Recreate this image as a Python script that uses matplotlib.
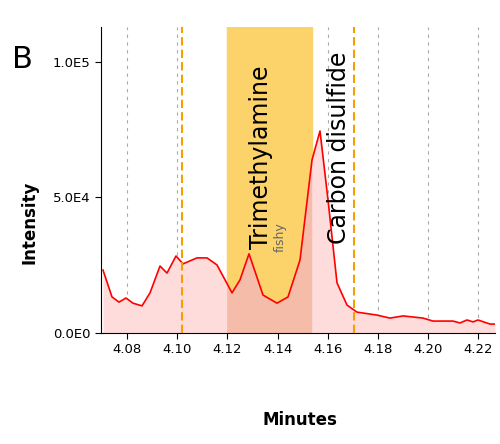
import matplotlib.pyplot as plt
import numpy as np

px = [103, 112, 119, 126, 133, 142, 150, 160, 167, 176, 183, 197, 207, 217, 232, 240, 249,
      263, 277, 288, 300, 312, 320, 328, 337, 347, 357, 377, 390, 403, 423, 433, 453, 460,
      467, 473, 478, 490, 495]
minutes = [4.08 + (p - 127) / 2510 for p in px]
intensity = [23.2, 13.3, 11.4, 12.9, 11.0, 10.0, 14.8, 24.7, 22.1, 28.4, 25.5, 27.7, 27.7,
             25.1, 14.8, 19.6, 29.2, 14.0, 11.0, 13.3, 26.9, 63.8, 74.5, 49.1, 18.5, 10.3,
             7.7, 6.6, 5.5, 6.3, 5.5, 4.4, 4.4, 3.7, 4.8, 4.1, 4.8, 3.3, 3.3]
intensity = [v * 1000 for v in intensity]

band = (4.1197, 4.1536)
marker_lines = [4.1019, 4.1704]
xticks = [4.08, 4.10, 4.12, 4.14, 4.16, 4.18, 4.20, 4.22]
yticks = [0, 50000, 100000]
ylabels = ["0.0E0", "5.0E4", "1.0E5"]

fig = plt.figure(figsize=(5, 4.44), dpi=100)
ax = fig.add_axes([0.202, 0.25, 0.788, 0.69])
ax.set_xlim(minutes[0] - 0.0008, minutes[-1])
ax.set_ylim(0, 113000)

for t in xticks:
    ax.axvline(t, color="#aaaaaa", ls=(0, (3, 4)), lw=0.8, zorder=0)
ax.axvspan(*band, color="#fcd36b", zorder=1)
x = np.array(minutes)
y = np.array(intensity)
ax.fill_between(x, y, color="#ffdcdc", lw=0, zorder=2)
# finer sampling so the in-band fill hugs the band edges
xf = np.linspace(band[0], band[1], 200)
ax.fill_between(xf, np.interp(xf, x, y), color="#f6bcaa", lw=0, zorder=2.5)
ax.plot(x, y, color="red", lw=1.2, zorder=3)
for m in marker_lines:
    ax.axvline(m, color="#f5a000", ls=(0, (4, 2)), lw=1.5, zorder=4)

ax.set_xticks(xticks)
ax.set_xticklabels([f"{t:.2f}" for t in xticks])
ax.set_yticks(yticks)
ax.set_yticklabels(ylabels)
ax.tick_params(labelsize=9.5, length=4)
for s in ["top", "right"]:
    ax.spines[s].set_visible(False)

ax.text(4.1335, 31000, "Trimethylamine", rotation=90, fontsize=17, ha="center", va="bottom", zorder=5)
ax.text(4.1412, 30000, "fishy", rotation=90, fontsize=9, color="#666666", ha="center", va="bottom", zorder=5)
ax.text(4.1645, 33000, "Carbon disulfide", rotation=90, fontsize=17, ha="center", va="bottom",
        zorder=5, clip_on=False)

fig.text(0.06, 0.5, "Intensity", rotation=90, fontsize=12, fontweight="bold", ha="center", va="center")
fig.text(0.6, 0.055, "Minutes", fontsize=12, fontweight="bold", ha="center", va="center")
fig.text(0.045, 0.865, "B", fontsize=22, ha="center", va="center")

fig.savefig("out.png", dpi=100)
